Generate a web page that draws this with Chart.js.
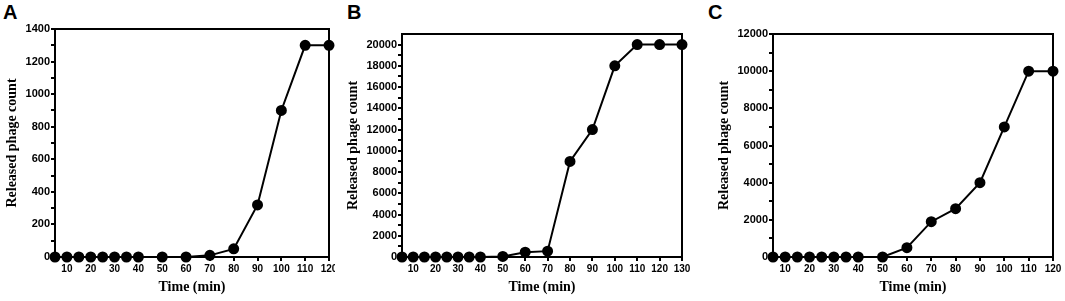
<!DOCTYPE html>
<html>
<head>
<meta charset="utf-8">
<script src="https://cdn.jsdelivr.net/npm/chart.js@4/dist/chart.umd.min.js"></script>
<style>
  body { margin: 0; background: #fff; width: 1065px; height: 301px; position: relative; overflow: hidden; }
  .panel { position: absolute; top: 0; height: 301px; overflow: hidden; }
  .letter { position: absolute; font: bold 20px "Liberation Sans", Arial, sans-serif; color: #000; }
</style>
</head>
<body>
<div class="letter" style="left:3px;top:1px">A</div>
<div class="letter" style="left:347px;top:1px">B</div>
<div class="letter" style="left:708px;top:1px">C</div>

<div class="panel" style="left:0;width:335px"><canvas id="chartA" width="345" height="301"></canvas></div>
<div class="panel" style="left:341px;width:356px"><canvas id="chartB" width="356" height="301"></canvas></div>
<div class="panel" style="left:712px;width:353px"><canvas id="chartC" width="353" height="301"></canvas></div>

<script>
// time points (min)
const timeA = [5, 10, 15, 20, 25, 30, 35, 40, 50, 60, 70, 80, 90, 100, 110, 120];
const timeB = [5, 10, 15, 20, 25, 30, 35, 40, 50, 60, 70, 80, 90, 100, 110, 120, 130];
const timeC = [5, 10, 15, 20, 25, 30, 35, 40, 50, 60, 70, 80, 90, 100, 110, 120];

// released phage counts
const countA = [0, 0, 0, 0, 0, 0, 0, 0, 0, 0, 10, 50, 320, 900, 1300, 1300];
const countB = [0, 0, 0, 0, 0, 0, 0, 0, 50, 450, 550, 9000, 12000, 18000, 20000, 20000, 20000];
const countC = [0, 0, 0, 0, 0, 0, 0, 0, 0, 500, 1900, 2600, 4000, 7000, 10000, 10000];

// axis ticks
const xTicksA = [10, 20, 30, 40, 50, 60, 70, 80, 90, 100, 110, 120];
const xTicksB = [10, 20, 30, 40, 50, 60, 70, 80, 90, 100, 110, 120, 130];
const xTicksC = [10, 20, 30, 40, 50, 60, 70, 80, 90, 100, 110, 120];
const yTicksA = [0, 200, 400, 600, 800, 1000, 1200, 1400];
const yMinorA = [100, 300, 500, 700, 900, 1100, 1300];
const yTicksB = [0, 2000, 4000, 6000, 8000, 10000, 12000, 14000, 16000, 18000, 20000];
const yMinorB = [1000, 3000, 5000, 7000, 9000, 11000, 13000, 15000, 17000, 19000];
const yTicksC = [0, 2000, 4000, 6000, 8000, 10000, 12000];
const yMinorC = [1000, 3000, 5000, 7000, 9000, 11000];

const xTitle = 'Time (min)';
const yTitle = 'Released phage count';

const frame = {
    id: 'frame',
    afterDraw(chart) {
        const { ctx, chartArea: a } = chart;
        ctx.save();
        ctx.strokeStyle = '#000';
        ctx.lineWidth = 2;
        ctx.beginPath();
        ctx.moveTo(a.left, a.top);
        ctx.lineTo(a.right, a.top);
        ctx.lineTo(a.right, a.bottom);
        ctx.stroke();
        ctx.restore();
    }
};

function makeChart(id, time, counts, xTicks, yTicks, yMinor, xMin, xMax, yMax, plotLeft, plotTop, plotRight) {
    const canvas = document.getElementById(id);
    const xFont = { family: '"Liberation Sans", Arial, sans-serif', size: 10, weight: 'bold' };
    const yFont = { family: '"Liberation Sans", Arial, sans-serif', size: 11, weight: 'bold' };
    const titleFont = { family: '"Liberation Serif", "Times New Roman", serif', size: 14, weight: 'bold' };
    return new Chart(canvas, {
        type: 'line',
        data: {
            datasets: [{
                data: time.map((t, i) => ({ x: t, y: counts[i] })),
                borderColor: '#000',
                backgroundColor: '#000',
                borderWidth: 2,
                pointRadius: 4.5,
                pointHoverRadius: 4.5,
                tension: 0,
                clip: false
            }]
        },
        options: {
            responsive: false,
            animation: false,
            events: [],
            plugins: { legend: { display: false }, tooltip: { enabled: false } },
            layout: { padding: { left: 0, top: plotTop, right: canvas.width - plotRight, bottom: 0 } },
            scales: {
                x: {
                    type: 'linear',
                    min: xMin,
                    max: xMax,
                    afterBuildTicks: s => { s.ticks = xTicks.map(v => ({ value: v })); },
                    afterFit: s => { s.height = 44; },
                    grid: { drawOnChartArea: false, tickLength: 4, color: '#000', lineWidth: 2 },
                    border: { display: true, color: '#000', width: 2 },
                    ticks: { color: '#000', font: xFont, padding: 2, autoSkip: false, maxRotation: 0 },
                    title: { display: true, text: xTitle, color: '#000', font: titleFont, padding: { top: 0, bottom: 5 } }
                },
                y: {
                    min: 0,
                    max: yMax,
                    afterBuildTicks: s => {
                        s.ticks = yTicks.concat(yMinor).sort((a, b) => a - b).map(v => ({ value: v }));
                    },
                    afterFit: s => { s.width = plotLeft; },
                    grid: { drawOnChartArea: false, tickLength: 4, color: '#000', lineWidth: 2 },
                    border: { display: true, color: '#000', width: 2 },
                    ticks: {
                        color: '#000', font: yFont, padding: 1, autoSkip: false,
                        callback: v => yTicks.includes(v) ? String(v) : ''
                    },
                    title: { display: true, text: yTitle, color: '#000', font: titleFont, padding: { top: 4, bottom: 4 } }
                }
            }
        },
        plugins: [frame]
    });
}

makeChart('chartA', timeA, countA, xTicksA, yTicksA, yMinorA, 5, 120, 1400, 55, 29, 329);
makeChart('chartB', timeB, countB, xTicksB, yTicksB, yMinorB, 5, 130, 21000, 61, 34, 341);
makeChart('chartC', timeC, countC, xTicksC, yTicksC, yMinorC, 5, 120, 12000, 61, 34, 341);
</script>
</body>
</html>
